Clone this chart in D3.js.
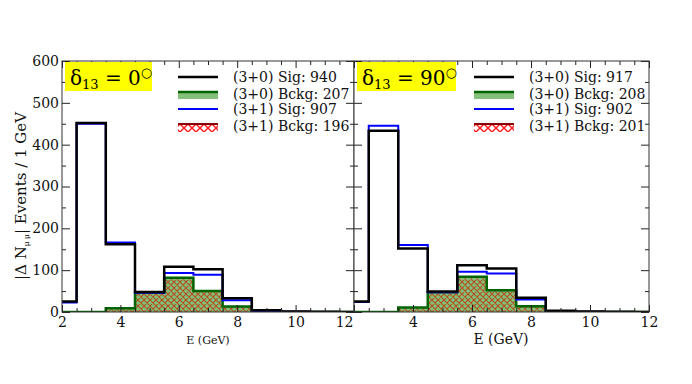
<!DOCTYPE html>
<html>
<head>
<meta charset="utf-8">
<script src="https://cdn.jsdelivr.net/npm/d3@7"></script>
<style>
  body { margin: 0; background: #fff; }
  svg text { font-family: "DejaVu Serif", serif; }
</style>
</head>
<body>
<div id="chart"></div>
<script>
// bin centres, 1 GeV wide bins
var binCenters = [2, 3, 4, 5, 6, 7, 8, 9, 10, 11, 12];

// delta13 = 0
var sig30_d0 = [25, 452, 162, 48, 108, 102, 33, 4, 1, 0.5, 0.3];
var sig31_d0 = [23, 450, 166, 46, 93, 89, 28, 2, 0.5, 0.3, 0.2];
var bkg30_d0 = [0, 0, 9, 46, 82, 50, 13, 1, 0, 0, 0];
var bkg31_d0 = [0, 0, 7, 43, 78, 48, 11, 1, 0, 0, 0];

// delta13 = 90
var sig30_d90 = [25, 433, 152, 49, 112, 104, 34, 3, 1, 0.5, 0.3];
var sig31_d90 = [24, 445, 160, 47, 96, 92, 30, 2, 0.5, 0.3, 0.2];
var bkg30_d90 = [0, 0, 11, 47, 84, 52, 14, 1, 0, 0, 0];
var bkg31_d90 = [0, 0, 9, 44, 80, 50, 12, 1, 0, 0, 0];

var legend_d0 = ["(3+0) Sig: 940", "(3+0) Bckg: 207", "(3+1) Sig: 907", "(3+1) Bckg: 196"];
var legend_d90 = ["(3+0) Sig: 917", "(3+0) Bckg: 208", "(3+1) Sig: 902", "(3+1) Bckg: 201"];

var xMajor = [2, 4, 6, 8, 10, 12];
var yMajor = [0, 100, 200, 300, 400, 500, 600];

var W = 692, H = 384;
var top_ = 61, bottom_ = 312;

var svg = d3.select("#chart").append("svg")
    .attr("width", W)
    .attr("height", H);

var defs = svg.append("defs");

// crosshatch (red over green reads brown inside the plot)
function hatch(id, color, w, s) {
    var p = defs.append("pattern")
        .attr("id", id)
        .attr("patternUnits", "userSpaceOnUse")
        .attr("width", s).attr("height", s);
    p.append("path")
        .attr("d", "M0,0L" + s + "," + s + "M" + s + ",0L0," + s +
            "M-1," + (s - 1) + "L1," + (s + 1) + "M" + (s - 1) + ",-1L" + (s + 1) + ",1" +
            "M-1,1L1,-1M" + (s - 1) + "," + (s + 1) + "L" + (s + 1) + "," + (s - 1))
        .attr("stroke", color)
        .attr("stroke-width", w)
        .attr("fill", "none");
}
hatch("hatchPlot", "#b0501e", 1.1, 6);
hatch("hatchLeg", "#ff1a1a", 1.4, 8);

var y = d3.scaleLinear().domain([0, 600]).range([bottom_, top_]);

function stepPoints(vals) {
    var pts = binCenters.map(function(c, i) { return [c - 0.5, vals[i]]; });
    pts.push([binCenters[binCenters.length - 1] + 0.5, vals[vals.length - 1]]);
    return pts;
}

function drawPanel(opts) {
    var x = d3.scaleLinear().domain([2, 12]).range([opts.x0, opts.x1]);
    var g = svg.append("g");

    // white background (hides overflow of previous panel)
    g.append("rect")
        .attr("x", opts.x0).attr("y", top_)
        .attr("width", opts.x1 - opts.x0).attr("height", bottom_ - top_)
        .attr("fill", "#fff");

    var clipId = "clip" + opts.id;
    defs.append("clipPath").attr("id", clipId)
        .append("rect")
        .attr("x", opts.x0).attr("y", top_)
        .attr("width", opts.x1 - opts.x0).attr("height", bottom_ - top_);

    var plot = g.append("g").attr("clip-path", "url(#" + clipId + ")");

    var area = d3.area()
        .x(function(d) { return x(d[0]); })
        .y0(y(0))
        .y1(function(d) { return y(d[1]); })
        .curve(d3.curveStepAfter);
    var line = d3.line()
        .x(function(d) { return x(d[0]); })
        .y(function(d) { return y(d[1]); })
        .curve(d3.curveStepAfter);

    plot.append("path").attr("d", area(stepPoints(opts.bkg30)))
        .attr("fill", "#84c07a");
    plot.append("path").attr("d", area(stepPoints(opts.bkg31)))
        .attr("fill", "url(#hatchPlot)");
    plot.append("path").attr("d", line(stepPoints(opts.bkg30)))
        .attr("fill", "none").attr("stroke", "#006400").attr("stroke-width", 2.5);
    plot.append("path").attr("d", line(stepPoints(opts.sig31)))
        .attr("fill", "none").attr("stroke", "#0000ff").attr("stroke-width", 2);
    plot.append("path").attr("d", line(stepPoints(opts.sig30)))
        .attr("fill", "none").attr("stroke", "#000").attr("stroke-width", 2.5);

    // ticks, all pointing inward
    var xMinor = d3.range(2, 12.01, 0.5).filter(function(v) { return v % 2 !== 0; });
    var yMinor = d3.range(50, 600, 100);

    var bAxis = g.append("g").attr("transform", "translate(0," + bottom_ + ")")
        .call(d3.axisBottom(x).tickValues(xMajor).tickSizeInner(-7).tickSizeOuter(0).tickPadding(5)
            .tickFormat(function(d) { return (opts.xLabels.indexOf(d) >= 0) ? d : ""; }));
    g.append("g").attr("transform", "translate(0," + bottom_ + ")")
        .call(d3.axisBottom(x).tickValues(xMinor).tickSizeInner(-4).tickSizeOuter(0).tickFormat(""));
    g.append("g").attr("transform", "translate(0," + top_ + ")")
        .call(d3.axisTop(x).tickValues(xMajor).tickSizeInner(-7).tickSizeOuter(0).tickFormat(""));
    g.append("g").attr("transform", "translate(0," + top_ + ")")
        .call(d3.axisTop(x).tickValues(xMinor).tickSizeInner(-4).tickSizeOuter(0).tickFormat(""));

    g.append("g").attr("transform", "translate(" + opts.x0 + ",0)")
        .call(d3.axisLeft(y).tickValues(yMajor).tickSizeInner(-8).tickSizeOuter(0).tickPadding(3)
            .tickFormat(opts.yLabels ? d3.format("d") : ""));
    g.append("g").attr("transform", "translate(" + opts.x0 + ",0)")
        .call(d3.axisLeft(y).tickValues(yMinor).tickSizeInner(-4).tickSizeOuter(0).tickFormat(""));
    g.append("g").attr("transform", "translate(" + opts.x1 + ",0)")
        .call(d3.axisRight(y).tickValues(yMajor).tickSizeInner(-8).tickSizeOuter(0).tickFormat(""));
    g.append("g").attr("transform", "translate(" + opts.x1 + ",0)")
        .call(d3.axisRight(y).tickValues(yMinor).tickSizeInner(-4).tickSizeOuter(0).tickFormat(""));

    g.selectAll(".domain").remove();
    g.selectAll(".tick line").attr("stroke", "#222").attr("stroke-width", 1);
    g.selectAll(".tick text").attr("font-size", "14px").attr("fill", "#111")
        .style("font-family", "'DejaVu Serif', serif");
    if (opts.shiftLast) {
        bAxis.selectAll(".tick text").filter(function(d) { return d === 12; })
            .attr("text-anchor", "end").attr("x", -1);
    }

    g.append("rect")
        .attr("x", opts.x0).attr("y", top_)
        .attr("width", opts.x1 - opts.x0).attr("height", bottom_ - top_)
        .attr("fill", "none").attr("stroke", "#333").attr("stroke-width", 1);

    // yellow title box
    g.append("rect")
        .attr("x", opts.x0 + 3).attr("y", top_ + 1)
        .attr("width", opts.boxW).attr("height", 29)
        .attr("fill", "#ffff00");
    var t = g.append("text")
        .attr("x", opts.x0 + 8).attr("y", top_ + 24)
        .attr("font-size", "20px").attr("fill", "#000");
    t.append("tspan").text("δ");
    t.append("tspan").attr("font-size", "13px").attr("dy", 4).text("13");
    t.append("tspan").attr("dy", -4).text(" = " + opts.angle);
    t.append("tspan").attr("font-size", "13px").attr("dy", -8).text("○");

    // legend
    var lx = opts.x0 + opts.legX;
    var rows = [top_ + 16, top_ + 33, top_ + 48, top_ + 65];
    var leg = g.append("g");
    leg.append("line").attr("x1", lx).attr("x2", lx + 40).attr("y1", rows[0]).attr("y2", rows[0])
        .attr("stroke", "#000").attr("stroke-width", 2.5);
    leg.append("rect").attr("x", lx).attr("y", rows[1] - 3).attr("width", 40).attr("height", 8)
        .attr("fill", "#84c07a");
    leg.append("line").attr("x1", lx).attr("x2", lx + 40).attr("y1", rows[1] - 2).attr("y2", rows[1] - 2)
        .attr("stroke", "#006400").attr("stroke-width", 2.5);
    leg.append("line").attr("x1", lx).attr("x2", lx + 40).attr("y1", rows[2]).attr("y2", rows[2])
        .attr("stroke", "#0000ff").attr("stroke-width", 2);
    leg.append("rect").attr("x", lx).attr("y", rows[3] - 2).attr("width", 40).attr("height", 8)
        .attr("fill", "url(#hatchLeg)");
    leg.append("line").attr("x1", lx).attr("x2", lx + 40).attr("y1", rows[3] - 2).attr("y2", rows[3] - 2)
        .attr("stroke", "#8b0000").attr("stroke-width", 2);
    opts.legend.forEach(function(s, i) {
        leg.append("text")
            .attr("x", lx + 55).attr("y", rows[i] + 5)
            .attr("font-size", "14px").attr("fill", "#111")
            .text(s);
    });

    // x label
    g.append("text")
        .attr("x", opts.xLabX).attr("y", 344)
        .attr("text-anchor", "middle")
        .attr("font-size", opts.xLabSize).attr("fill", "#111")
        .text("E (GeV)");
}

drawPanel({
    id: "a", x0: 62, x1: 354,
    sig30: sig30_d0, sig31: sig31_d0, bkg30: bkg30_d0, bkg31: bkg31_d0,
    legend: legend_d0, angle: "0", boxW: 87,
    xLabels: [2, 4, 6, 8, 10, 12], yLabels: true, shiftLast: true,
    legX: 116, xLabX: 208, xLabSize: "11px"
});
drawPanel({
    id: "b", x0: 354, x1: 649,
    sig30: sig30_d90, sig31: sig31_d90, bkg30: bkg30_d90, bkg31: bkg31_d90,
    legend: legend_d90, angle: "90", boxW: 99,
    xLabels: [4, 6, 8, 10, 12], yLabels: false, shiftLast: false,
    legX: 120, xLabX: 501, xLabSize: "14px"
});

// y axis label
var yl = svg.append("text")
    .attr("transform", "translate(26,196) rotate(-90)")
    .attr("text-anchor", "middle")
    .attr("font-size", "15px").attr("fill", "#111");
yl.append("tspan").text("|Δ N");
yl.append("tspan").attr("font-size", "7.5px").attr("dy", 3).text("μ μ");
yl.append("tspan").attr("dy", -3).text("| Events / 1 GeV");
</script>
</body>
</html>
